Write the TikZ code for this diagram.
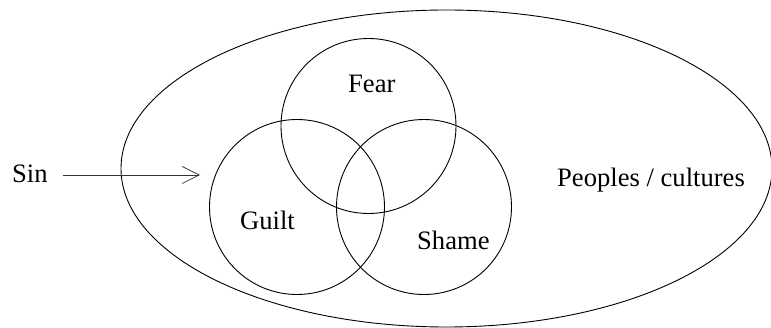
\documentclass[tikz,border=0pt]{standalone}
\usepackage{fontspec}
\setmainfont{Liberation Serif}
\usepackage{tikz}
\usetikzlibrary{shapes.geometric,arrows.meta,positioning}
\tikzset{
  ring/.style={
    circle, draw, line width=0.9pt,
    minimum size=175pt, inner sep=0pt
  },
  outerring/.style={
    ellipse, draw, line width=0.9pt,
    minimum width=651pt, minimum height=317pt, inner sep=0pt
  },
  lbl/.style={
    anchor=base west, inner sep=0pt,
    font=\fontsize{26.6}{32}\selectfont
  },
  sinarr/.style={-{Straight Barb[length=17pt,width=17pt]}, line width=0.7pt, #1},
}
\begin{document}
\begin{tikzpicture}[x=1pt, y=-1pt]
  \useasboundingbox (0,0) rectangle (771,328);

  % outer ellipse and the three circles
  \node[outerring] (peoples) at (446.5,168.5) {};
  \node[ring]      (fear)    at (368.5,126) {};
  \node[ring]      (guilt)   at (297,207)   {};
  \node[ring]      (shame)   at (424,207)   {};

  % texts
  \node[lbl] (sintxt)   at (12,183)  {Sin};
  \node[lbl] (feartxt)  at (348,93)  {Fear};
  \node[lbl] (guilttxt) at (240,230) {Guilt};
  \node[lbl] (shametxt) at (417,250) {Shame};
  \node[lbl] (peopletxt) at (557,187) {Peoples / cultures};

  % arrow
  \coordinate (arrfrom) at (63,175);
  \coordinate (arrto)   at (200,175);
  \draw[sinarr=black!80] (arrfrom) -- (arrto);
\end{tikzpicture}
\end{document}
